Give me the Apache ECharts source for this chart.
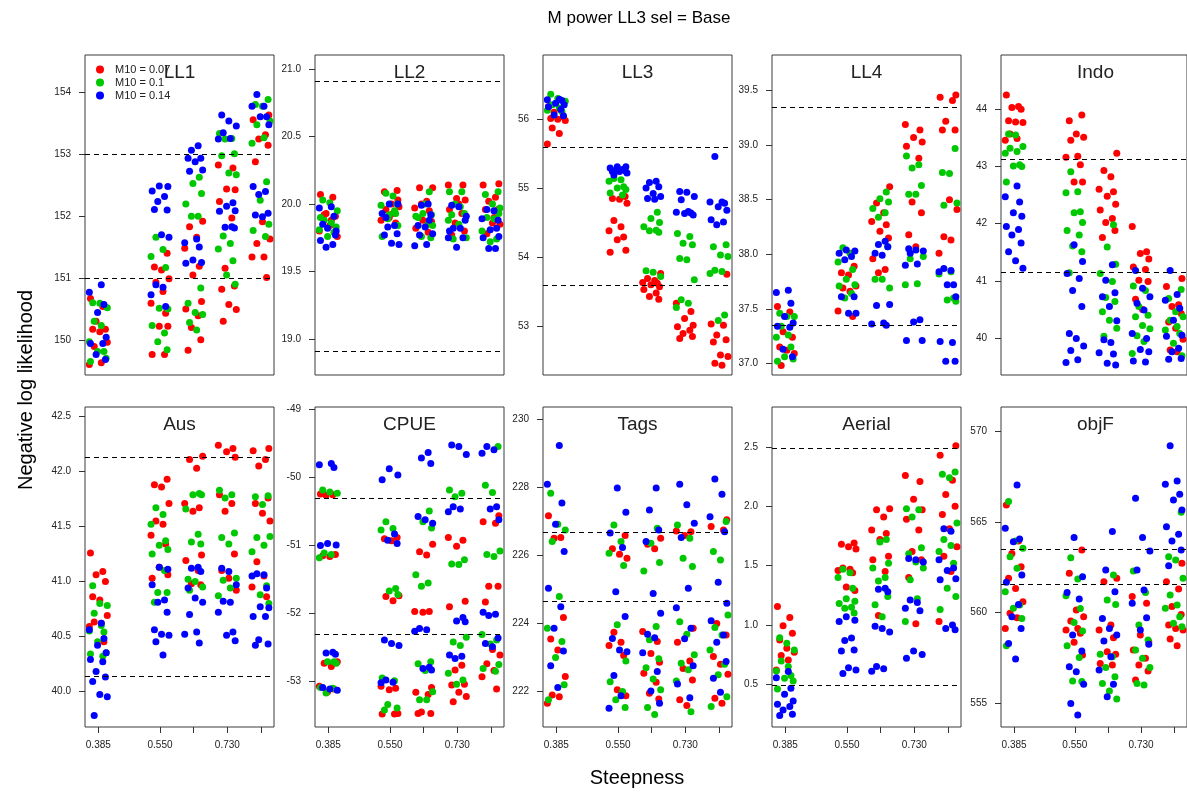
<!DOCTYPE html>
<html><head><meta charset="utf-8">
<script src="https://cdn.jsdelivr.net/npm/echarts@6/dist/echarts.min.js"></script>
<style>html,body{margin:0;padding:0;background:#fff}#c{width:1187px;height:794px}</style>
</head><body><div id="c"></div>
<script>
const FONT = "'Liberation Sans', Arial, sans-serif";
const TITLE = 'M power LL3 sel = Base';
const X_NAME = 'Steepness';
const Y_NAME = 'Negative log likelihood';
const PANELS = ['LL1','LL2','LL3','LL4','Indo','Aus','CPUE','Tags','Aerial','objF'];
const SERIES_NAMES = ['M10 = 0.07','M10 = 0.1','M10 = 0.14'];
const SERIES_COLORS = ['#ff0000','#00c800','#0000ff'];
const X_VALUES = [0.385, 0.55, 0.64, 0.73, 0.82];
const X_TICK_LABELS = [0.385, 0.55, 0.73];
const X_RANGE = [0.3494, 0.8548];
const JITTER = [-0.021, 0.012, -0.006, 0.019, -0.015, 0.004, 0.024, -0.011, 0.008, -0.024, 0.015, -0.002, 0.021];

const Y_RANGES = [[149.43,154.61],[18.733,21.104],[52.29,56.93],[36.893,39.827],[39.353,44.95],
                  [39.675,42.588],[-53.68,-48.97],[220.96,230.35],[0.14,2.837],[553.70,571.32]];
const Y_TICKS = [[150,151,152,153,154],[19.0,19.5,20.0,20.5,21.0],[53,54,55,56],[37.0,37.5,38.0,38.5,39.0,39.5],[40,41,42,43,44],
                 [40.0,40.5,41.0,41.5,42.0,42.5],[-53,-52,-51,-50,-49],[222,224,226,228,230],[0.5,1.0,1.5,2.0,2.5],[555,560,565,570]];
const Y_DECIMALS = [0,1,0,1,0,1,0,0,1,0];
const REF_LINES = [[153.01,150.99],[20.91,18.91],[55.59,53.585],[39.353,37.351],[43.125,41.149],
                   [42.133,40.139],[-50.324,-52.313],[226.684,224.652],[2.494,0.489],[563.50,561.54]];

// each array: 5 steepness groups of values
const LL1_R = [[150.67,150.54,150.30,150.17,150.17,150.13,149.96,149.89,149.63,149.60],
 [151.40,151.18,151.13,150.99,150.93,150.78,150.59,150.43,150.22,150.22,149.76,149.76],
 [151.92,151.83,151.66,151.48,151.19,151.05,150.62,150.50,150.39,150.20,150.00,149.83],
 [152.83,152.78,152.44,152.43,152.24,151.97,151.16,150.87,150.82,150.57,150.49,150.30],
 [153.64,153.56,153.32,153.25,153.15,152.88,151.91,151.63,151.56,151.34,151.34,151.01]];
const LL1_G = [[150.60,150.59,150.52,150.30,150.23,149.97,149.81,149.81,149.70,149.65],
 [151.66,151.46,151.35,151.17,150.51,150.50,150.23,150.11,149.97,149.84],
 [152.63,152.53,152.37,152.20,152.00,152.00,150.84,150.59,150.44,150.41,150.28,150.16],
 [153.34,153.26,153.25,153.01,152.98,152.70,152.67,151.68,151.56,151.47,151.28,151.05,150.90],
 [153.89,153.81,153.78,153.54,153.48,153.27,153.18,152.56,152.26,151.87,151.77,151.67]];
const LL1_B = [[150.89,150.77,150.57,150.44,150.04,149.94,149.94,149.76,149.68],
 [152.49,152.48,152.41,152.32,152.24,152.10,152.11,151.70,151.66,150.89,150.85,150.73,150.54],
 [153.14,153.07,152.94,152.94,152.88,152.75,152.73,151.63,151.57,151.50,151.29,151.25,151.24],
 [153.64,153.54,153.46,153.35,153.26,153.25,152.22,152.16,152.09,152.08,151.83,151.82,151.81],
 [153.97,153.78,153.78,153.61,153.61,153.48,152.48,152.40,152.35,152.05,152.02,151.99]];

const LL2_R = [[20.07,20.05,19.93,19.91,19.90,19.84,19.76,19.92,19.88,19.80],
 [20.10,20.09,20.00,19.98,19.96,19.93,19.88,19.86,19.90,20.03],
 [20.12,20.12,20.02,19.97,19.95,19.88,19.87,19.82,19.79,20.00],
 [20.14,20.14,20.04,20.03,19.96,19.93,19.86,19.80,19.77,20.00],
 [20.15,20.14,20.05,20.02,19.96,19.96,19.86,19.85,19.78,19.90]];
const LL2_G = [[20.03,20.01,19.95,19.88,19.86,19.81,19.79,19.76,19.83,19.90],
 [20.08,20.06,19.99,19.93,19.92,19.84,19.76,19.95,19.89,20.00],
 [20.09,19.93,19.92,19.91,19.85,19.76,19.75,19.90,20.00,19.84],
 [20.09,20.09,20.00,19.93,19.92,19.85,19.75,19.74,19.98,19.88],
 [20.09,20.07,20.00,19.97,19.90,19.89,19.80,19.74,19.72,19.93]];
const LL2_B = [[19.98,19.97,19.91,19.82,19.80,19.73,19.70,19.68,19.77,19.85],
 [20.00,20.00,19.93,19.84,19.83,19.78,19.77,19.71,19.70,19.90],
 [20.00,19.99,19.92,19.84,19.83,19.78,19.77,19.70,19.69,19.88],
 [19.99,19.98,19.91,19.82,19.82,19.75,19.75,19.68,19.88,19.80],
 [19.96,19.95,19.89,19.82,19.81,19.76,19.75,19.67,19.67,19.88]];

const LL3_R = [[56.18,56.14,56.10,56.03,56.01,56.00,55.98,55.87,55.79,55.64],
 [54.88,54.85,54.84,54.78,54.53,54.44,54.38,54.29,54.25,54.10,54.07],
 [53.76,53.69,53.66,53.63,53.62,53.60,53.57,53.53,53.48,53.43,53.39],
 [53.33,53.21,53.11,53.01,52.99,52.94,52.89,52.85,52.82],
 [53.75,53.03,53.01,52.87,52.80,52.77,52.58,52.56,52.46,52.43]];
const LL3_G = [[56.36,56.30,56.26,56.21,56.16,56.13,56.11],
 [55.14,55.12,55.10,55.02,55.00,54.98,54.93,54.90],
 [54.65,54.56,54.50,54.44,54.39,54.38,54.36,53.80,53.78,53.72],
 [54.34,54.30,54.20,54.18,53.98,53.96,53.67,53.38,53.33,53.27],
 [54.18,54.15,54.03,54.01,53.81,53.79,53.76,53.16,53.08]];
const LL3_B = [[56.29,56.28,56.27,56.23,56.21,56.18,56.14,56.06,56.05],
 [55.31,55.31,55.29,55.27,55.26,55.25,55.24,55.24,55.22,55.19],
 [55.10,55.08,55.02,55.00,54.92,54.88,54.85,54.84],
 [54.95,54.94,54.88,54.83,54.66,54.65,54.64,54.63,54.61],
 [55.46,54.80,54.80,54.78,54.73,54.68,54.54,54.51,54.47]];

const LL4_R = [[37.52,37.47,37.29,37.24,37.15,37.12,37.09,36.98],
 [37.89,37.83,37.81,37.71,37.69,37.66,37.48,37.43],
 [38.62,38.47,38.38,38.30,38.27,38.21,38.15,37.96,37.86,37.83],
 [39.19,39.14,39.07,39.03,38.99,38.88,38.48,38.38,38.18,38.07],
 [39.46,39.44,39.41,39.22,39.14,39.14,38.50,38.41,38.16,38.13,38.01]];
const LL4_G = [[37.46,37.43,37.43,37.34,37.26,37.24,37.15,37.06,37.04,37.02],
 [38.06,38.01,37.93,37.86,37.77,37.72,37.71,37.64,37.60],
 [38.57,38.51,38.48,38.42,38.38,38.34,38.07,37.77,37.77,37.69],
 [38.90,38.82,38.79,38.63,38.55,38.55,37.98,37.96,37.73,37.72],
 [38.97,38.75,38.74,38.47,38.45,37.84,37.82,37.60,37.58,37.57]];
const LL4_B = [[37.67,37.65,37.55,37.43,37.37,37.34,37.33,37.13,37.06],
 [38.04,38.03,38.01,37.98,37.95,37.61,37.61,37.46,37.46],
 [38.12,38.09,38.07,38.01,37.99,37.54,37.53,37.37,37.36,37.35],
 [38.05,38.04,38.03,38.01,37.91,37.90,37.40,37.38,37.21,37.21],
 [37.87,37.85,37.84,37.72,37.72,37.61,37.20,37.19,37.02,37.02]];

const INDO_R = [[44.25,44.05,44.03,44.00,43.80,43.78,43.77,43.57,43.49,43.46],
 [43.90,43.80,43.57,43.51,43.46,43.18,43.16,43.03,42.73,42.73],
 [43.23,42.93,42.82,42.60,42.56,42.48,42.34,42.24,42.09,42.02,41.88,41.76],
 [41.95,41.51,41.48,41.38,41.24,41.20,41.01,40.99,40.68,40.50],
 [41.04,40.90,40.58,40.55,40.43,40.28,40.17,39.98,39.79,39.76]];
const INDO_G = [[43.57,43.55,43.35,43.32,43.26,43.23,43.03,43.01,43.00,42.73],
 [42.91,42.56,42.54,42.21,42.19,42.02,41.88,41.80,41.61,41.51,41.14],
 [41.98,41.59,41.29,41.13,40.99,40.71,40.64,40.46,40.31,40.17,40.03],
 [40.91,40.83,40.55,40.40,40.37,40.22,40.16,40.04,39.94,39.73],
 [40.85,40.69,40.46,40.37,40.31,40.20,40.14,40.08,39.91,39.69]];
const INDO_B = [[42.66,42.47,42.38,42.19,42.13,41.95,41.90,41.80,41.66,41.51,41.35,41.22],
 [41.63,41.34,41.13,41.04,40.83,40.55,40.08,39.99,39.86,39.78,39.62,39.57],
 [41.28,41.01,40.79,40.72,40.55,40.30,39.97,39.92,39.74,39.72,39.56,39.53],
 [41.18,40.87,40.72,40.61,40.49,40.08,39.99,39.80,39.76,39.60,39.58],
 [41.18,40.76,40.66,40.52,40.31,40.05,40.03,39.82,39.76,39.64,39.63]];

const AUS_R = [[41.26,41.09,41.06,41.00,40.86,40.83,40.69,40.63,40.62,40.59,40.45],
 [41.93,41.88,41.86,41.71,41.55,41.52,41.42,41.34,41.13,41.06,41.03],
 [42.14,42.11,42.03,41.71,41.67,41.64,41.24,41.19,41.10,40.98,40.97],
 [42.24,42.21,42.18,42.13,41.79,41.71,41.64,41.25,41.10,41.03,40.92],
 [42.21,42.19,42.11,42.05,41.76,41.71,41.62,41.55,41.18,41.05,40.95,40.86]];
const AUS_G = [[40.96,40.80,40.78,40.71,40.60,40.55,40.54,40.45,40.35,40.34,40.32],
 [41.67,41.61,41.52,41.37,41.33,41.29,41.25,41.10,40.90,40.90,40.81],
 [41.80,41.79,41.79,41.66,41.43,41.36,41.34,41.02,41.00,40.95,40.92],
 [41.83,41.79,41.76,41.44,41.40,41.34,41.03,41.01,40.94,40.87],
 [41.78,41.77,41.70,41.41,41.40,41.33,41.27,40.96,40.88,40.80]];
const AUS_B = [[40.62,40.56,40.48,40.42,40.35,40.29,40.27,40.18,40.13,40.09,39.97,39.95,39.78],
 [41.13,41.11,40.97,40.83,40.81,40.72,40.56,40.52,40.51,40.45,40.33],
 [41.13,41.12,41.09,40.94,40.85,40.81,40.70,40.54,40.52,40.44],
 [41.12,41.09,40.97,40.82,40.81,40.72,40.54,40.51,40.46],
 [41.07,41.06,41.05,40.94,40.77,40.76,40.68,40.68,40.47,40.43,40.42]];

const CPUE_R = [[-50.25,-50.26,-50.27,-51.14,-51.16,-51.17,-52.72,-52.74,-52.79,-53.08,-53.12,-53.16],
 [-50.89,-50.91,-50.94,-51.75,-51.76,-51.82,-53.08,-53.11,-53.13,-53.48,-53.49,-53.49],
 [-50.99,-51.10,-51.15,-51.98,-51.98,-51.99,-53.10,-53.17,-53.20,-53.46,-53.48,-53.48],
 [-50.89,-50.93,-51.02,-51.83,-51.91,-52.77,-52.84,-53.05,-53.06,-53.17,-53.23,-53.31],
 [-50.57,-50.66,-50.68,-51.61,-51.61,-51.84,-52.54,-52.62,-52.75,-52.85,-52.94,-53.12]];
const CPUE_G = [[-50.19,-50.22,-50.24,-51.12,-51.14,-51.19,-52.72,-52.72,-52.74,-53.10,-53.11,-53.18],
 [-50.66,-50.76,-50.78,-51.64,-51.68,-51.73,-52.96,-53.00,-53.35,-53.40,-53.43],
 [-50.50,-50.66,-50.75,-51.44,-51.56,-51.61,-52.72,-52.75,-52.85,-53.16,-53.28,-53.28],
 [-50.19,-50.24,-50.29,-51.22,-51.28,-51.29,-52.36,-52.43,-52.48,-52.89,-52.99,-53.05],
 [-49.55,-50.12,-50.23,-51.09,-51.14,-51.17,-52.32,-52.40,-52.46,-52.76,-52.82,-52.86]];
const CPUE_B = [[-49.80,-49.82,-49.86,-50.98,-51.00,-51.01,-52.58,-52.59,-52.61,-53.10,-53.12,-53.14],
 [-49.88,-49.97,-50.04,-50.84,-50.93,-50.98,-52.40,-52.45,-52.48,-52.99,-53.02,-53.03],
 [-49.64,-49.72,-49.80,-50.58,-50.63,-50.68,-52.23,-52.25,-52.27,-52.80,-52.82,-52.84],
 [-49.53,-49.55,-49.67,-50.44,-50.47,-50.51,-52.07,-52.12,-52.13,-52.62,-52.64,-52.67],
 [-49.55,-49.60,-49.65,-50.44,-50.47,-50.63,-51.99,-52.02,-52.04,-52.37,-52.45,-52.50]];

const TAGS_R = [[227.16,226.52,226.50,224.17,223.54,223.22,222.44,221.90,221.85,221.66],
 [226.58,226.19,226.03,225.91,223.74,223.45,223.35,223.06,222.05,221.88],
 [226.50,226.32,226.19,223.76,223.47,223.12,222.86,222.54,222.27,221.95,221.78],
 [226.71,226.69,226.58,223.86,223.45,222.90,222.68,222.34,221.76,221.59],
 [227.04,226.84,226.74,224.00,223.66,223.03,222.80,222.51,221.80,221.66]];
const TAGS_G = [[227.82,226.91,226.74,226.40,224.79,223.86,223.47,223.00,222.20,221.76],
 [226.89,226.40,226.06,225.70,223.96,222.90,222.29,222.00,221.76,221.53],
 [226.79,226.35,225.79,225.54,223.91,223.52,222.96,222.70,222.37,222.05,221.53,221.33],
 [226.89,226.50,225.91,225.67,224.05,223.68,223.08,222.83,222.64,222.31,221.41],
 [226.99,226.11,225.86,224.25,223.88,223.66,223.22,222.80,222.49,221.85,221.56]];
const TAGS_B = [[229.22,228.08,227.53,226.91,226.11,225.03,224.49,223.86,223.19,222.76,222.12],
 [227.97,227.26,226.65,226.23,224.93,224.20,223.56,223.22,223.17,222.47,221.88,221.51],
 [227.97,227.33,226.74,226.40,224.88,224.30,223.68,223.58,223.14,222.59,222.02,221.66],
 [228.08,227.48,226.94,226.52,225.03,224.46,223.86,223.55,222.76,222.22,221.82],
 [228.24,227.79,227.13,226.69,225.21,224.59,224.08,223.66,223.45,222.88,222.39,221.98]];

const AERIAL_R = [[1.155,1.062,0.994,0.930,0.874,0.803,0.770,0.742,0.705,0.621],
 [1.69,1.68,1.66,1.64,1.48,1.47,1.46,1.44,1.32,1.29],
 [1.98,1.97,1.91,1.80,1.77,1.72,1.58,1.55,1.45,1.08],
 [2.26,2.21,2.06,1.97,1.89,1.80,1.62,1.55,1.40,1.01],
 [2.51,2.43,2.22,2.10,2.00,1.93,1.81,1.66,1.58,1.45,1.03]];
const AERIAL_G = [[0.893,0.846,0.789,0.697,0.649,0.612,0.573,0.551,0.528,0.461],
 [1.47,1.44,1.40,1.31,1.22,1.20,1.18,1.15,1.14,1.10],
 [1.72,1.70,1.52,1.48,1.40,1.37,1.24,1.17,1.07],
 [1.98,1.97,1.91,1.65,1.60,1.53,1.48,1.38,1.22,1.03],
 [2.29,2.27,2.24,1.86,1.72,1.67,1.62,1.52,1.31,1.24,1.13]];
const AERIAL_B = [[0.607,0.556,0.466,0.416,0.360,0.331,0.312,0.284,0.247,0.236],
 [1.07,1.04,1.03,0.89,0.87,0.79,0.78,0.64,0.62,0.59],
 [1.31,1.30,1.28,0.99,0.97,0.94,0.65,0.63,0.61],
 [1.56,1.55,1.53,1.21,1.19,1.14,1.12,0.78,0.75,0.72],
 [1.81,1.79,1.55,1.48,1.46,1.39,1.38,1.00,0.97,0.96]];

const OBJF_R = [[565.92,563.94,563.26,562.53,561.89,561.33,560.60,559.96,559.72,559.13],
 [563.45,562.16,560.14,559.77,559.53,559.13,559.04,558.86,558.36,557.66],
 [561.89,561.70,559.32,559.04,558.62,557.85,557.70,557.20,557.11],
 [560.88,560.51,558.76,558.40,557.94,557.48,557.11,556.78,556.29],
 [562.71,561.70,561.30,560.33,559.90,559.32,559.13,559.04,558.54,558.18]];
const OBJF_G = [[566.11,563.94,563.54,563.08,562.44,561.15,560.42,560.24,559.68,558.18],
 [563.02,561.85,560.93,560.23,559.46,558.98,558.18,557.52,556.23,556.20],
 [562.07,560.69,560.45,557.70,557.57,556.97,556.47,556.10,555.68,555.24],
 [562.29,561.11,559.32,558.49,557.94,557.48,556.97,556.10,556.01],
 [565.52,563.08,562.90,561.89,560.97,560.42,560.24,559.77,559.41,559.22]];
const OBJF_B = [[567.03,564.64,564.05,563.90,562.07,561.67,560.45,559.77,559.13,558.30,557.44],
 [564.13,561.98,561.11,560.75,558.76,557.88,557.02,556.74,556.05,555.00,554.36],
 [564.46,562.34,561.15,559.68,559.13,558.76,558.43,557.57,556.84,556.05,555.37],
 [566.29,564.13,563.39,562.34,561.24,560.51,559.72,559.04,558.25],
 [569.19,567.25,567.06,566.51,566.20,565.65,564.73,564.31,563.94,563.45,562.58]];

const PANEL_DATA = [[LL1_R,LL1_G,LL1_B],[LL2_R,LL2_G,LL2_B],[LL3_R,LL3_G,LL3_B],[LL4_R,LL4_G,LL4_B],[INDO_R,INDO_G,INDO_B],
                    [AUS_R,AUS_G,AUS_B],[CPUE_R,CPUE_G,CPUE_B],[TAGS_R,TAGS_G,TAGS_B],[AERIAL_R,AERIAL_G,AERIAL_B],[OBJF_R,OBJF_G,OBJF_B]];

// layout
const GRID_LEFTS = [85, 315, 543, 772, 1001];
const GRID_TOPS = [55, 407];
const GW = 189, GH = 320;

const grids = [], xAxes = [], yAxes = [], series = [], graphics = [];
PANELS.forEach((name, p) => {
  const row = p < 5 ? 0 : 1, col = p % 5;
  const left = GRID_LEFTS[col], top = GRID_TOPS[row];
  grids.push({left, top, width: GW, height: GH, show: true, borderColor: '#3a3a3a', borderWidth: 1, backgroundColor: 'transparent'});
  xAxes.push({type: 'value', gridIndex: p, min: X_RANGE[0], max: X_RANGE[1],
    axisLine: {show: false}, splitLine: {show: false},
    axisTick: {show: row === 1, customValues: X_VALUES, length: 6, lineStyle: {color: '#333'}},
    axisLabel: {show: row === 1, customValues: X_TICK_LABELS, formatter: v => Number(v).toFixed(3), margin: 13,
      fontSize: 10, color: '#222', fontFamily: FONT}});
  yAxes.push({type: 'value', gridIndex: p, min: Y_RANGES[p][0], max: Y_RANGES[p][1],
    axisLine: {show: false}, splitLine: {show: false},
    axisTick: {show: true, customValues: Y_TICKS[p], length: 6, lineStyle: {color: '#333'}},
    axisLabel: {customValues: Y_TICKS[p], formatter: v => Number(v).toFixed(Y_DECIMALS[p]), margin: 14,
      fontSize: 10, color: '#222', fontFamily: FONT}});
  PANEL_DATA[p].forEach((groups, c) => {
    const data = [];
    groups.forEach((vals, g) => vals.forEach((y, i) => {
      data.push([X_VALUES[g] + JITTER[(i + 4 * c + 3 * g) % JITTER.length], y]);
    }));
    const s = {type: 'scatter', name: SERIES_NAMES[c], xAxisIndex: p, yAxisIndex: p,
      symbol: 'circle', symbolSize: 7, itemStyle: {color: SERIES_COLORS[c], opacity: 1}, data, animation: false, z: 2};
    if (c === 0) {
      s.markLine = {silent: true, symbol: ['none','none'], label: {show: false}, animation: false,
        lineStyle: {color: '#000', type: [5, 4], width: 1}, emphasis: {disabled: true},
        data: REF_LINES[p].map(v => ({yAxis: v}))};
    }
    series.push(s);
  });
  graphics.push({type: 'text', x: left + GW / 2, y: top + 18, z: 10,
    style: {text: name, fontSize: 19, fontFamily: FONT, fill: '#222', align: 'center', verticalAlign: 'middle'}});
});
graphics.push({type: 'text', x: 639, y: 18, style: {text: TITLE, fontSize: 17, fontFamily: FONT, fill: '#000', align: 'center', verticalAlign: 'middle'}});
graphics.push({type: 'text', x: 637, y: 778, style: {text: X_NAME, fontSize: 20, fontFamily: FONT, fill: '#000', align: 'center', verticalAlign: 'middle'}});
graphics.push({type: 'text', x: 26, y: 390, rotation: Math.PI / 2, style: {text: Y_NAME, fontSize: 20, fontFamily: FONT, fill: '#000', align: 'center', verticalAlign: 'middle'}});

const chart = echarts.init(document.getElementById('c'), null, {renderer: 'canvas'});
chart.setOption({
  animation: false,
  backgroundColor: '#fff',
  grid: grids, xAxis: xAxes, yAxis: yAxes, series,
  legend: {orient: 'vertical', left: 91, top: 59, itemWidth: 8, itemHeight: 8, itemGap: 2, icon: 'circle',
    data: SERIES_NAMES, textStyle: {fontSize: 11, fontFamily: FONT, color: '#222', padding: [0, 0, 0, 6]}},
  graphic: graphics
});
</script></body></html>
